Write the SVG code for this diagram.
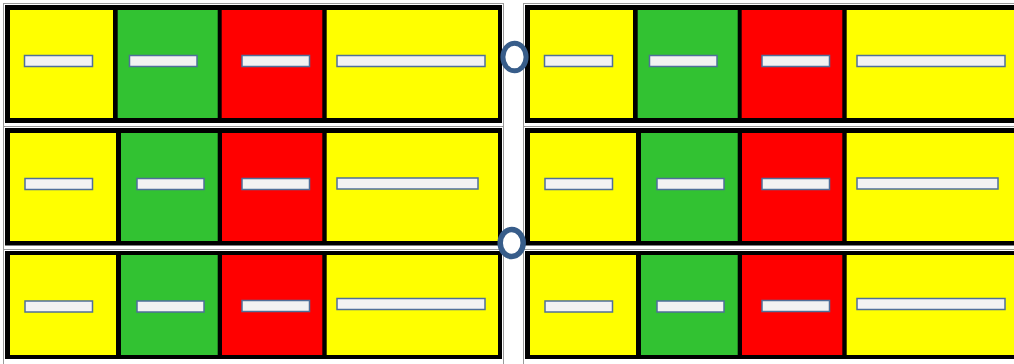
<svg xmlns="http://www.w3.org/2000/svg" width="1014" height="364" viewBox="0 0 1014 364">
<style>
.bg{fill:#FFFFFF}
.frame{fill:none;stroke:#9A9A9A;stroke-width:1}
.sep{stroke:#9A9A9A;stroke-width:1}
.row{fill:#000000}
.y{fill:#FFFF00}
.g{fill:#32C232}
.r{fill:#FF0000}
.bar{fill:#F2F2F2;stroke:#4F6F9A;stroke-width:1.5}
.ring{fill:#FFFFFF;stroke:#385D8A}
</style>
<rect class="bg" x="0" y="0" width="1014" height="364"/>
<g id="panel-left">
  <rect class="frame" x="3.5" y="3.5" width="500" height="400"/>
  <line class="sep" x1="3.5" y1="126.5" x2="503.5" y2="126.5"/>
  <line class="sep" x1="3.5" y1="249.5" x2="503.5" y2="249.5"/>
  <g id="L-row1">
    <rect class="row" x="5" y="5" width="497" height="118"/>
    <g id="L-r1-c1"><rect class="y" x="10" y="10" width="103" height="108"/><rect class="bar" x="24.5" y="55.5" width="68" height="11"/></g>
    <g id="L-r1-c2"><rect class="g" x="117.7" y="10" width="100" height="108"/><rect class="bar" x="129.5" y="55.5" width="67.5" height="11"/></g>
    <g id="L-r1-c3"><rect class="r" x="221.7" y="10" width="100.6" height="108"/><rect class="bar" x="242" y="55.5" width="67.5" height="11"/></g>
    <g id="L-r1-c4"><rect class="y" x="326.7" y="10" width="171.3" height="108"/><rect class="bar" x="337" y="55.5" width="148" height="11"/></g>
  </g>
  <g id="L-row2">
    <rect class="row" x="5" y="128" width="497" height="117.5"/>
    <g id="L-r2-c1"><rect class="y" x="10" y="133" width="106" height="108"/><rect class="bar" x="25" y="178.5" width="67.5" height="11"/></g>
    <g id="L-r2-c2"><rect class="g" x="121" y="133" width="96.7" height="108"/><rect class="bar" x="137" y="178.5" width="67" height="11"/></g>
    <g id="L-r2-c3"><rect class="r" x="222" y="133" width="100.3" height="108"/><rect class="bar" x="242" y="178.5" width="67.5" height="11"/></g>
    <g id="L-r2-c4"><rect class="y" x="326.7" y="133" width="171.3" height="108"/><rect class="bar" x="337" y="178" width="141" height="11"/></g>
  </g>
  <g id="L-row3">
    <rect class="row" x="5" y="251" width="497" height="108"/>
    <g id="L-r3-c1"><rect class="y" x="10" y="255" width="106" height="100"/><rect class="bar" x="25" y="301" width="67.5" height="11"/></g>
    <g id="L-r3-c2"><rect class="g" x="121" y="255" width="96.7" height="100"/><rect class="bar" x="137" y="301" width="67" height="11"/></g>
    <g id="L-r3-c3"><rect class="r" x="222" y="255" width="100.3" height="100"/><rect class="bar" x="242" y="300.5" width="67.5" height="11"/></g>
    <g id="L-r3-c4"><rect class="y" x="326.7" y="255" width="171.3" height="100"/><rect class="bar" x="337" y="298.5" width="148" height="11"/></g>
  </g>
</g>
<g id="panel-right">
  <rect class="frame" x="523.5" y="3.5" width="500" height="400"/>
  <line class="sep" x1="523.5" y1="126.5" x2="1023.5" y2="126.5"/>
  <line class="sep" x1="523.5" y1="249.5" x2="1023.5" y2="249.5"/>
  <g id="R-row1">
    <rect class="row" x="525" y="5" width="497" height="118"/>
    <g id="R-r1-c1"><rect class="y" x="530" y="10" width="103" height="108"/><rect class="bar" x="544.5" y="55.5" width="68" height="11"/></g>
    <g id="R-r1-c2"><rect class="g" x="637.7" y="10" width="100" height="108"/><rect class="bar" x="649.5" y="55.5" width="67.5" height="11"/></g>
    <g id="R-r1-c3"><rect class="r" x="741.7" y="10" width="100.6" height="108"/><rect class="bar" x="762" y="55.5" width="67.5" height="11"/></g>
    <g id="R-r1-c4"><rect class="y" x="846.7" y="10" width="171.3" height="108"/><rect class="bar" x="857" y="55.5" width="148" height="11"/></g>
  </g>
  <g id="R-row2">
    <rect class="row" x="525" y="128" width="497" height="117.5"/>
    <g id="R-r2-c1"><rect class="y" x="530" y="133" width="106" height="108"/><rect class="bar" x="545" y="178.5" width="67.5" height="11"/></g>
    <g id="R-r2-c2"><rect class="g" x="641" y="133" width="96.7" height="108"/><rect class="bar" x="657" y="178.5" width="67" height="11"/></g>
    <g id="R-r2-c3"><rect class="r" x="742" y="133" width="100.3" height="108"/><rect class="bar" x="762" y="178.5" width="67.5" height="11"/></g>
    <g id="R-r2-c4"><rect class="y" x="846.7" y="133" width="171.3" height="108"/><rect class="bar" x="857" y="178" width="141" height="11"/></g>
  </g>
  <g id="R-row3">
    <rect class="row" x="525" y="251" width="497" height="108"/>
    <g id="R-r3-c1"><rect class="y" x="530" y="255" width="106" height="100"/><rect class="bar" x="545" y="301" width="67.5" height="11"/></g>
    <g id="R-r3-c2"><rect class="g" x="641" y="255" width="96.7" height="100"/><rect class="bar" x="657" y="301" width="67" height="11"/></g>
    <g id="R-r3-c3"><rect class="r" x="742" y="255" width="100.3" height="100"/><rect class="bar" x="762" y="300.5" width="67.5" height="11"/></g>
    <g id="R-r3-c4"><rect class="y" x="846.7" y="255" width="171.3" height="100"/><rect class="bar" x="857" y="298.5" width="148" height="11"/></g>
  </g>
</g>
<g id="connectors"></g>
<g id="ring-top"><ellipse class="ring" cx="514.5" cy="57" rx="11.6" ry="13.8" stroke-width="5"/></g>
<g id="ring-middle"><ellipse class="ring" cx="511.7" cy="243" rx="11.5" ry="13.4" stroke-width="5.5"/></g>
</svg>
